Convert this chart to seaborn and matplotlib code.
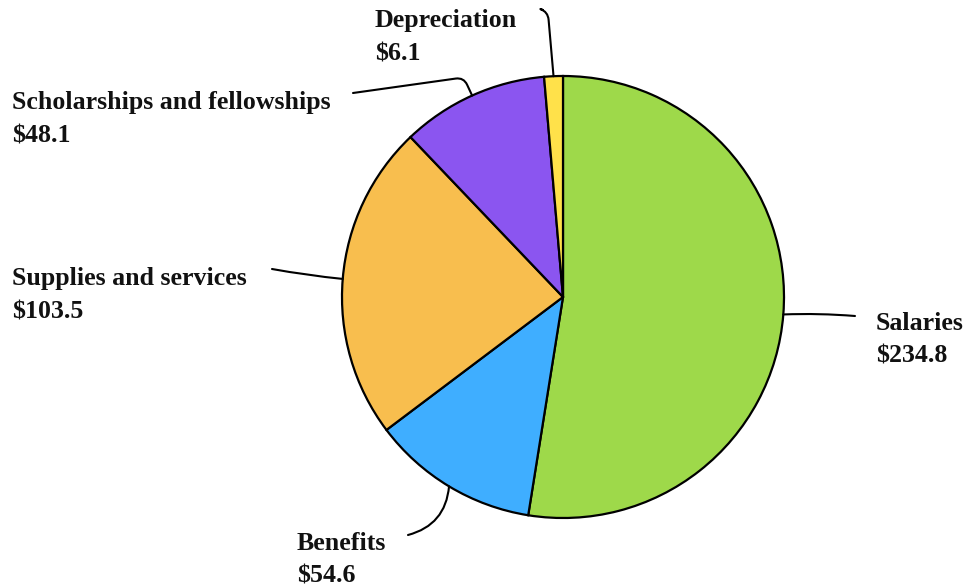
import numpy as np
import matplotlib.pyplot as plt
import seaborn as sns

categories = ["Salaries", "Benefits", "Supplies and services",
              "Scholarships and fellowships", "Depreciation"]
amounts = [234.8, 54.6, 103.5, 48.1, 6.1]
colors = ["#9ED94A", "#3FAEFF", "#F8BE4E", "#8B55F0", "#FFE14A"]

W, H = 965, 588


def py(y):
    # pixel row (top-down) to data y (bottom-up)
    return H - y


# label layout: text anchor (left, last baseline), leader end, connector shape
layout = {
    "Salaries": dict(text=(876, 363), end=(855, 316), conn="arc3,rad=0.03"),
    "Benefits": dict(text=(297, 583), end=(408, 535), conn="arc3,rad=0.35"),
    "Supplies and services": dict(text=(12, 318), end=(272, 269), conn="arc3,rad=0.02"),
    "Scholarships and fellowships": dict(text=(12, 142), end=(353, 93),
                                         conn="angle,angleA=8,angleB=115,rad=8"),
    "Depreciation": dict(text=(375, 60), end=(543, 10),
                         conn="angle,angleA=-20,angleB=95,rad=8"),
}

sns.set_theme(style="white")
plt.rcParams["font.family"] = ["Liberation Serif", "DejaVu Serif"]

fig = plt.figure(figsize=(W / 100, H / 100), dpi=100)
ax = fig.add_axes([0, 0, 1, 1])

center = (563, py(297))
radius = 221
wedges, _ = ax.pie(amounts, colors=colors, startangle=90, counterclock=False,
                   center=center, radius=radius, frame=True,
                   wedgeprops=dict(edgecolor="black", linewidth=1.6))
ax.set_xlim(0, W)
ax.set_ylim(0, H)
ax.set_aspect("equal")
ax.axis("off")

for w, name, val in zip(wedges, categories, amounts):
    mid = np.deg2rad((w.theta1 + w.theta2) / 2)
    rim = (center[0] + radius * np.cos(mid), center[1] + radius * np.sin(mid))
    lay = layout[name]
    end = (lay["end"][0], py(lay["end"][1]))
    ax.annotate("", xy=rim, xytext=end,
                arrowprops=dict(arrowstyle="-", color="black", lw=1.5,
                                shrinkA=0, shrinkB=0,
                                connectionstyle=lay["conn"]))
    tx, ty = lay["text"]
    ax.text(tx, py(ty), f"{name}\n${val:.1f}", ha="left", va="baseline",
            fontsize=18.6, fontweight="bold", color="#111111", linespacing=1.55)

fig.savefig("out.png", dpi=100, facecolor="white")
